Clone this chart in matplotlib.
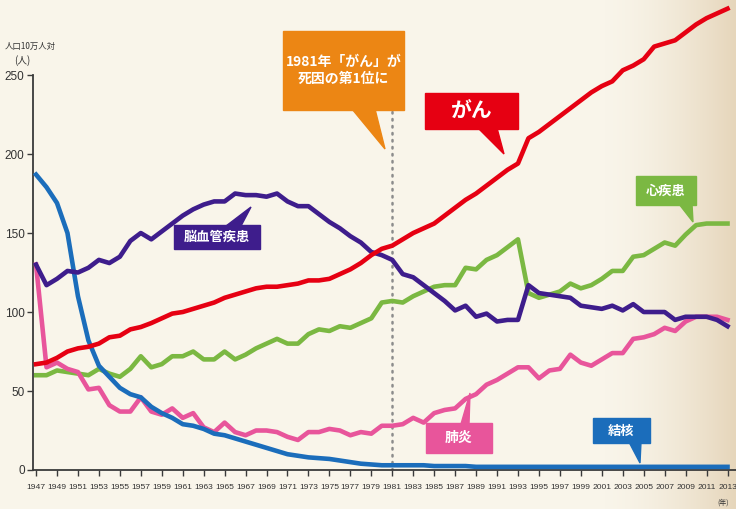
import numpy as np
import matplotlib.pyplot as plt
from matplotlib.patches import Polygon
from matplotlib.colors import LinearSegmentedColormap

# deaths per 100,000 population, 1947-2013
years = list(range(1947, 2014))

cancer = [67, 68, 71, 75, 77, 78, 80, 84, 85, 89,
          90.5, 93, 96, 99, 100, 102, 104, 106, 109, 111,
          113, 115, 116, 116, 117, 118, 120, 120, 121, 124,
          127, 131, 136, 140, 142, 146, 150, 153, 156, 161,
          166, 171, 175, 180, 185, 190, 194, 210, 214, 219,
          224, 229, 234, 239, 243, 246, 253, 256, 260, 268,
          270, 272, 277, 282, 286, 289, 292]

stroke = [130, 117, 121, 126, 125, 128, 133, 131, 135, 145,
          150, 146, 151, 156, 161, 165, 168, 170, 170, 175,
          174, 174, 173, 175, 170, 167, 167, 162, 157, 153,
          148, 144, 138, 136, 133, 124, 122, 117, 112, 107,
          101, 104, 97, 99, 94, 95, 95, 117, 112, 111,
          110, 109, 104, 103, 102, 104, 101, 105, 100, 100,
          100, 95, 97, 97, 97, 95, 91]

heart = [60, 60, 63, 62, 61, 60, 64, 61, 59, 64,
         72, 65, 67, 72, 72, 75, 70, 70, 75, 70,
         73, 77, 80, 83, 80, 80, 86, 89, 88, 91,
         90, 93, 96, 106, 107, 106, 110, 113, 116, 117,
         117, 128, 127, 133, 136, 141, 146, 112, 109, 111,
         113, 118, 115, 117, 121, 126, 126, 135, 136, 140,
         144, 142, 149, 155, 156, 156, 156]

pneumonia = [130, 65, 68, 64, 62, 51, 52, 41, 37, 37,
             46, 37, 35, 39, 33, 36, 27, 24, 30, 24,
             22, 25, 25, 24, 21, 19, 24, 24, 26, 25,
             22, 24, 23, 28, 28, 29, 33, 30, 36, 38,
             39, 45, 48, 54, 57, 61, 65, 65, 58, 63,
             64, 73, 68, 66, 70, 74, 74, 83, 84, 86,
             90, 88, 94, 97, 97, 97, 95]

tuberculosis = [187, 179, 169, 150, 110, 82, 66, 59, 52, 48,
                46, 40, 36, 33, 29, 28, 26, 23, 22, 20,
                18, 16, 14, 12, 10, 9, 8, 7.5, 7, 6,
                5, 4, 3.5, 3, 3, 3, 3, 3, 2.5, 2.5,
                2.5, 2.5, 2, 2, 2, 2, 2, 2, 2, 2,
                2, 2, 2, 2, 2, 2, 2, 2, 2, 2,
                2, 2, 2, 2, 2, 2, 2]

y_ticks = [0, 50, 100, 150, 200, 250]
x_ticks = years[::2]

W, H = 736, 509
jp = ['Noto Sans CJK JP', 'DejaVu Sans']
sans = ['Liberation Sans', 'DejaVu Sans']

fig = plt.figure(figsize=(W / 100, H / 100), dpi=100)
fig.patch.set_facecolor('#f9f5ea')

# paper tint, darker toward the right edge
bg = fig.add_axes([0, 0, 1, 1], zorder=-10)
shade = np.clip((np.arange(W) - 600) / 136, 0, 1) ** 1.6
paper = LinearSegmentedColormap.from_list('paper', ['#f9f5ea', '#e6d6bb'])
bg.imshow(shade[None, :], aspect='auto', cmap=paper, extent=[0, 1, 0, 1])
bg.axis('off')

ax = fig.add_axes([33 / W, 39 / H, (W - 33) / W, (H - 39) / H])
ax.set_facecolor('none')
ax.set_xlim(1946.71, 2013.81)
ax.set_ylim(0, 297.5)

ax.plot([1981, 1981], [0, 228], color='#8c8c8c', lw=1.8, dashes=(0.6, 2.2),
        dash_capstyle='round', zorder=1)

ax.plot(years, heart, color='#7bb842', lw=3.3, zorder=2)
ax.plot(years, pneumonia, color='#e8559b', lw=3.3, zorder=3)
ax.plot(years, tuberculosis, color='#1b6dbb', lw=3.3, zorder=4, clip_on=False)
ax.plot(years, stroke, color='#3e1d8c', lw=3.3, zorder=5)
ax.plot(years, cancer, color='#e60012', lw=3.3, zorder=6)

for s in ['top', 'right']:
    ax.spines[s].set_visible(False)
ax.spines['left'].set_bounds(0, 250)
for s in ['left', 'bottom']:
    ax.spines[s].set_color('#3a3a3a')
    ax.spines[s].set_linewidth(1.3)

ax.set_xticks(x_ticks)
ax.set_xticklabels([str(y) for y in x_ticks], fontfamily=sans, fontsize=6.1)
ax.set_yticks(y_ticks)
ax.set_yticklabels([str(v) for v in y_ticks], fontfamily=sans, fontsize=8.5)
ax.tick_params(direction='out', length=4, width=1, color='#3a3a3a',
               labelcolor='#333333')
ax.tick_params(axis='x', pad=6)
ax.tick_params(axis='y', pad=2)

fig.text(5 / W, 1 - 46 / H, '人口10万人対', fontfamily=jp, fontsize=6,
         color='#333333', va='center')
fig.text(14 / W, 1 - 61 / H, '(人)', fontfamily=jp, fontsize=7,
         color='#333333', va='center')
fig.text(723 / W, 1 - 503 / H, '(年)', fontfamily=jp, fontsize=5,
         color='#333333', va='center', ha='center')


def px(x, y):
    return (x / W, 1 - y / H)


def callout(box, pointer, color, label, size):
    x0, y0, x1, y1 = box
    rect = [px(x0, y0), px(x1, y0), px(x1, y1), px(x0, y1)]
    fig.patches.append(Polygon(rect, closed=True, color=color,
                               transform=fig.transFigure, zorder=10))
    fig.patches.append(Polygon([px(*p) for p in pointer], closed=True,
                               color=color, transform=fig.transFigure, zorder=10))
    cx, cy = px((x0 + x1) / 2, (y0 + y1) / 2)
    fig.text(cx, cy, label, color='white', fontfamily=jp, fontsize=size,
             fontweight='bold', ha='center', va='center', linespacing=1.3,
             zorder=11)


callout((283, 31, 404, 110), [(352, 109), (375, 109), (385, 149)],
        '#ec8614', '1981年「がん」が\n死因の第1位に', 10)
callout((425, 93, 518, 129), [(478, 128), (497, 128), (504, 154)],
        '#e60012', 'がん', 15)
callout((174, 225, 260, 249), [(226, 226), (241, 226), (251, 207)],
        '#3e1d8c', '脳血管疾患', 9.5)
callout((636, 176, 696, 205), [(679, 204), (692, 204), (693, 222)],
        '#7bb842', '心疾患', 9.5)
callout((426, 423, 492, 453), [(461, 424), (469, 424), (470, 393)],
        '#e8559b', '肺炎', 10)
callout((593, 418, 650, 443), [(629, 442), (641, 442), (640, 463)],
        '#1b6dbb', '結核', 9.5)

fig.savefig('out.png', dpi=100)
